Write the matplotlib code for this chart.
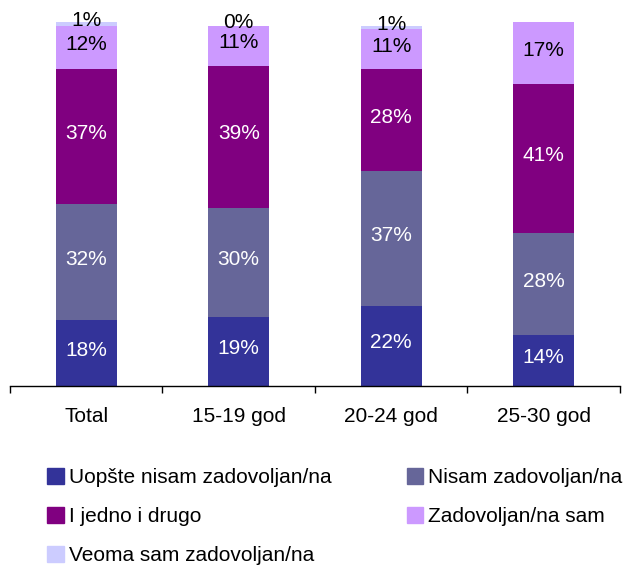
import numpy as np
import matplotlib
matplotlib.use("Agg")
import matplotlib.pyplot as plt
import matplotlib.patches as mpatches

plt.rcParams['font.family'] = ['Liberation Sans', 'DejaVu Sans']

CATEGORIES = ["Total", "15-19 god", "20-24 god", "25-30 god"]
SERIES_NAMES = [
  "Uopšte nisam zadovoljan/na",
  "Nisam zadovoljan/na",
  "I jedno i drugo",
  "Zadovoljan/na sam",
  "Veoma sam zadovoljan/na",
]
uopste = [18, 19, 22, 14]
nisam = [32, 30, 37, 28]
jedno_drugo = [37, 39, 28, 41]
zadovoljan = [12, 11, 11, 17]
veoma = [1, 0, 1, None]  # no value shown for 25-30 god

SERIES = [uopste, nisam, jedno_drugo, zadovoljan, veoma]
COLORS = ["#333399", "#666699", "#800080", "#CC99FF", "#CCCCFF"]
LABEL_COLORS = ["white", "white", "white", "black", "black"]
FONT_SIZE = 15

fig = plt.figure(figsize=(6.28, 5.65), dpi=100)
ax = fig.add_axes([0.016, 0.317, 0.971, 0.644])

x = np.arange(len(CATEGORIES))
bottom = np.zeros(len(CATEGORIES))
handles = []
for values, name, color, lcolor in zip(SERIES, SERIES_NAMES, COLORS, LABEL_COLORS):
  vals = np.array([0 if v is None else v for v in values], dtype=float)
  ax.bar(x, vals, 0.4, bottom=bottom, color=color, linewidth=0)
  for i, v in enumerate(values):
    if v is None:
      continue
    ax.text(x[i], bottom[i] + vals[i] / 2 + 0.8, "{}%".format(v), ha="center", va="center",
            color=lcolor, fontsize=FONT_SIZE)
  bottom += vals
  handles.append(mpatches.Patch(color=color, label=name))

ax.set_xlim(-0.5, len(CATEGORIES) - 0.5)
ax.set_ylim(0, 100)
for side in ["left", "right", "top"]:
  ax.spines[side].set_visible(False)
ax.spines["bottom"].set_linewidth(1.0)
ax.set_yticks([])
ax.set_xticks(x)
ax.set_xticklabels(CATEGORIES, fontsize=FONT_SIZE)
ax.tick_params(axis="x", which="major", length=0, pad=15)
ax.set_xticks(np.arange(-0.5, len(CATEGORIES)), minor=True)
ax.tick_params(axis="x", which="minor", length=5, width=1.0, direction="out")

order = [0, 2, 4, 1, 3]
fig.legend([handles[i] for i in order], [SERIES_NAMES[i] for i in order],
           ncol=2, loc="upper left", bbox_to_anchor=(47 / 628, 1 - 468 / 565),
           frameon=False, fontsize=FONT_SIZE, borderpad=0, borderaxespad=0,
           handlelength=0.8, handleheight=0.8, handletextpad=0.25,
           labelspacing=0.95, columnspacing=3.6)

fig.savefig("out.png", dpi=100)
